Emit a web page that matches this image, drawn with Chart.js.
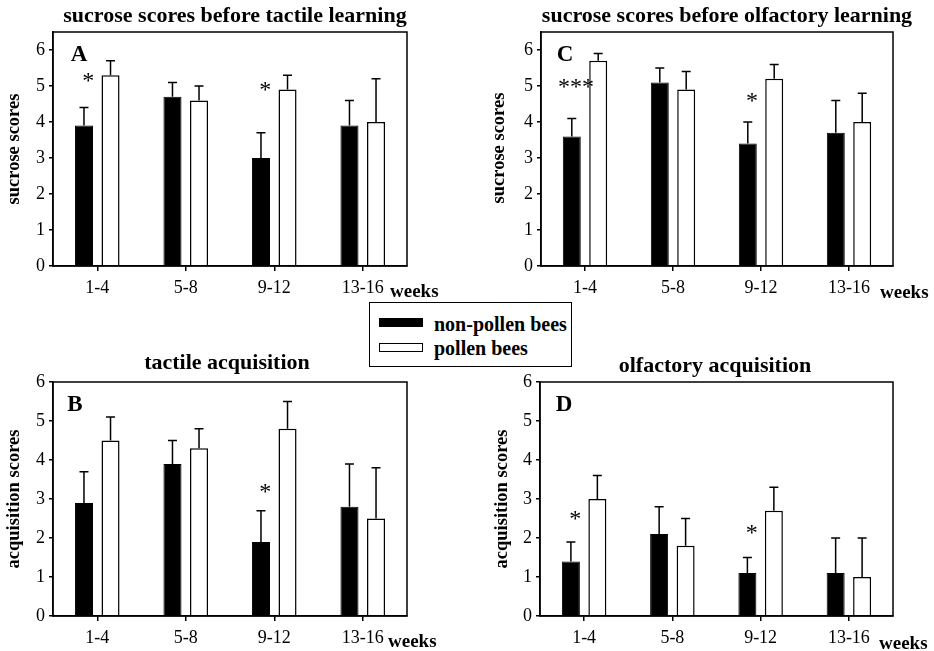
<!DOCTYPE html>
<html>
<head>
<meta charset="utf-8">
<script src="https://cdn.jsdelivr.net/npm/chart.js@4"></script>
<style>
  html, body { margin: 0; padding: 0; background: #fff; }
  body { width: 934px; height: 651px; position: relative; overflow: hidden;
         font-family: "Liberation Serif", "Times New Roman", serif; color: #000; }
  canvas { position: absolute; }
  .lbl { position: absolute; white-space: nowrap; transform: translate(-50%, -50%); line-height: 1; }
  .title { font-weight: bold; font-size: 22px; }
  .ytitle { font-weight: bold; font-size: 18.5px; transform: translate(-50%, -50%) rotate(-90deg); }
  .letter { font-weight: bold; font-size: 23px; }
  .weeks { font-weight: bold; font-size: 19px; transform: translate(0, -50%); }
  #legend { position: absolute; left: 369px; top: 302px; width: 201px; height: 63px;
            border: 1.5px solid #000; background: #fff; }
  .key { position: absolute; left: 9px; width: 42px; height: 7px; border: 1.5px solid #000; }
  .ktext { position: absolute; left: 64px; font-weight: bold; font-size: 20px; line-height: 1;
           transform: translate(0, -50%); }
</style>
</head>
<body>
<canvas id="chartA" style="left:0;top:0"></canvas>
<canvas id="chartC" style="left:467px;top:0"></canvas>
<canvas id="chartB" style="left:0;top:300px"></canvas>
<canvas id="chartD" style="left:467px;top:300px"></canvas>

<div class="lbl title" style="left:235px;top:15px">sucrose scores before tactile learning</div>
<div class="lbl title" style="left:727px;top:15px">sucrose scores before olfactory learning</div>
<div class="lbl title" style="left:227px;top:362px">tactile acquisition</div>
<div class="lbl title" style="left:715px;top:365px">olfactory acquisition</div>

<div class="lbl ytitle" style="left:13px;top:149px">sucrose scores</div>
<div class="lbl ytitle" style="left:498px;top:148px">sucrose scores</div>
<div class="lbl ytitle" style="left:13px;top:499px">acquisition scores</div>
<div class="lbl ytitle" style="left:501px;top:499px">acquisition scores</div>

<div class="lbl letter" style="left:79px;top:53px">A</div>
<div class="lbl letter" style="left:565px;top:53px">C</div>
<div class="lbl letter" style="left:75px;top:403px">B</div>
<div class="lbl letter" style="left:564px;top:403px">D</div>

<div class="lbl weeks" style="left:390px;top:290px">weeks</div>
<div class="lbl weeks" style="left:880px;top:291px">weeks</div>
<div class="lbl weeks" style="left:388px;top:640px">weeks</div>
<div class="lbl weeks" style="left:879px;top:642px">weeks</div>

<div id="legend">
  <div class="key" style="top:15px;background:#000"></div>
  <div class="ktext" style="top:21px">non-pollen bees</div>
  <div class="key" style="top:40px;background:#fff"></div>
  <div class="ktext" style="top:45px">pollen bees</div>
</div>

<script>
const weeks = ['1-4', '5-8', '9-12', '13-16'];

// A: sucrose scores before tactile learning
const sucTactNon = [3.9, 4.7, 3.0, 3.9];
const sucTactNonErr = [0.5, 0.4, 0.7, 0.7];
const sucTactPol = [5.3, 4.6, 4.9, 4.0];
const sucTactPolErr = [0.4, 0.4, 0.4, 1.2];
const sucTactStars = [[0, 5.25, '*'], [2, 5.0, '*']];

// C: sucrose scores before olfactory learning
const sucOlfNon = [3.6, 5.1, 3.4, 3.7];
const sucOlfNonErr = [0.5, 0.4, 0.6, 0.9];
const sucOlfPol = [5.7, 4.9, 5.2, 4.0];
const sucOlfPolErr = [0.2, 0.5, 0.4, 0.8];
const sucOlfStars = [[0, 5.1, '***'], [2, 4.7, '*']];

// B: tactile acquisition
const tactNon = [2.9, 3.9, 1.9, 2.8];
const tactNonErr = [0.8, 0.6, 0.8, 1.1];
const tactPol = [4.5, 4.3, 4.8, 2.5];
const tactPolErr = [0.6, 0.5, 0.7, 1.3];
const tactStars = [[2, 3.3, '*']];

// D: olfactory acquisition
const olfNon = [1.4, 2.1, 1.1, 1.1];
const olfNonErr = [0.5, 0.7, 0.4, 0.9];
const olfPol = [3.0, 1.8, 2.7, 1.0];
const olfPolErr = [0.6, 0.7, 0.6, 1.0];
const olfStars = [[0, 2.6, '*'], [2, 2.25, '*']];

const serif = '"Liberation Serif", "Times New Roman", serif';

// error bars (upward only) + significance stars + frame
const extras = {
    id: 'extras',
    afterDatasetsDraw(chart, args, opts) {
        const ctx = chart.ctx;
        const y = chart.scales.y;
        const x = chart.scales.x;
        ctx.save();
        ctx.strokeStyle = '#000';
        ctx.lineWidth = 1.5;
        chart.data.datasets.forEach((ds, di) => {
            const meta = chart.getDatasetMeta(di);
            meta.data.forEach((bar, i) => {
                const top = y.getPixelForValue(ds.data[i] + ds.errors[i]);
                ctx.beginPath();
                ctx.moveTo(bar.x, bar.y);
                ctx.lineTo(bar.x, top);
                ctx.moveTo(bar.x - 4.5, top);
                ctx.lineTo(bar.x + 4.5, top);
                ctx.stroke();
            });
        });
        ctx.fillStyle = '#000';
        ctx.font = '24px ' + serif;
        ctx.textAlign = 'center';
        ctx.textBaseline = 'middle';
        opts.stars.forEach(([i, v, t]) => {
            ctx.fillText(t, x.getPixelForValue(i) - 9, y.getPixelForValue(v) + 5);
        });
        const a = chart.chartArea;
        ctx.strokeRect(a.left, a.top, a.right - a.left, a.bottom - a.top);
        ctx.restore();
    }
};

function makePanel(id, w, h, area, yMax, non, nonErr, pol, polErr, stars) {
    const canvas = document.getElementById(id);
    canvas.style.width = w + 'px';
    canvas.style.height = h + 'px';
    return new Chart(canvas, {
        type: 'bar',
        data: {
            labels: weeks,
            datasets: [
                {
                    label: 'non-pollen bees',
                    data: non,
                    errors: nonErr,
                    backgroundColor: '#000',
                    borderColor: '#000',
                    borderWidth: 1,
                },
                {
                    label: 'pollen bees',
                    data: pol,
                    errors: polErr,
                    backgroundColor: '#fff',
                    borderColor: '#000',
                    borderWidth: 1.5,
                }
            ]
        },
        options: {
            responsive: false,
            animation: false,
            devicePixelRatio: 1,
            categoryPercentage: 0.6,
            barPercentage: 0.68,
            layout: { padding: { left: 0, top: area.top, right: w - area.right, bottom: 0 } },
            plugins: {
                legend: { display: false },
                tooltip: { enabled: false },
                extras: { stars: stars },
            },
            scales: {
                x: {
                    afterFit: (s) => { s.height = h - area.bottom; },
                    grid: { offset: false, drawOnChartArea: false, drawTicks: true, tickLength: 5, color: '#000', lineWidth: 1.5 },
                    border: { display: true, color: '#000', width: 1.5 },
                    ticks: { color: '#000', font: { family: serif, size: 18 }, padding: 6, maxRotation: 0 },
                },
                y: {
                    min: 0,
                    max: yMax,
                    afterFit: (s) => { s.width = area.left; },
                    grid: { drawOnChartArea: false, drawTicks: true, tickLength: 4, color: '#000', lineWidth: 1.5 },
                    border: { display: true, color: '#000', width: 1.5 },
                    ticks: { stepSize: 1, includeBounds: false, color: '#000', font: { family: serif, size: 18 }, padding: 4 },
                }
            }
        },
        plugins: [extras]
    });
}

makePanel('chartA', 467, 300, { left: 53, right: 407, top: 32, bottom: 266 }, 6.5,
    sucTactNon, sucTactNonErr, sucTactPol, sucTactPolErr, sucTactStars);
makePanel('chartC', 467, 300, { left: 74, right: 426, top: 32, bottom: 266 }, 6.5,
    sucOlfNon, sucOlfNonErr, sucOlfPol, sucOlfPolErr, sucOlfStars);
makePanel('chartB', 467, 351, { left: 53, right: 407, top: 82, bottom: 316 }, 6,
    tactNon, tactNonErr, tactPol, tactPolErr, tactStars);
makePanel('chartD', 467, 351, { left: 73, right: 426, top: 82, bottom: 316 }, 6,
    olfNon, olfNonErr, olfPol, olfPolErr, olfStars);
</script>
</body>
</html>
